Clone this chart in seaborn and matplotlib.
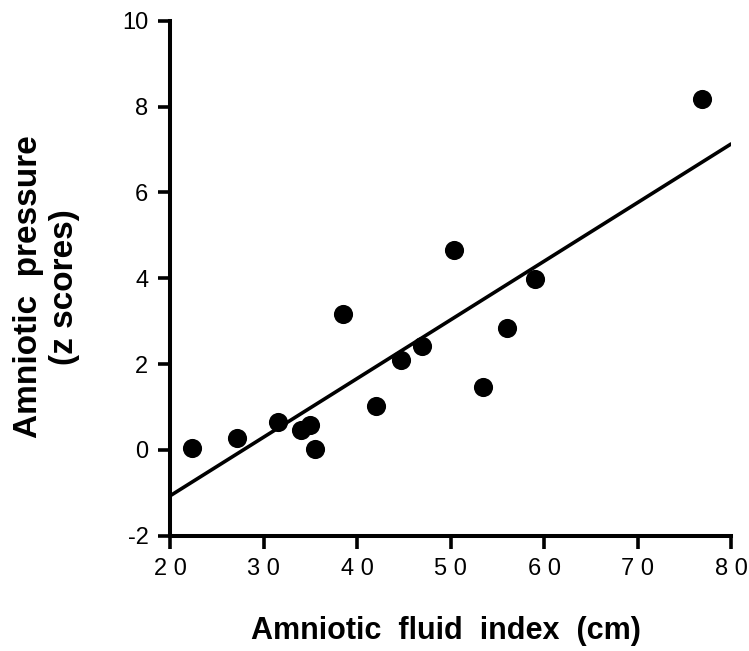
import matplotlib
matplotlib.use("Agg")
import matplotlib.pyplot as plt
import seaborn as sns
import pandas as pd

afi_cm = [22.3, 27.2, 31.5, 34.0, 35.0, 35.5, 38.5, 42.0, 44.7, 47.0, 50.4, 53.5, 56.0, 59.0, 76.9]
pressure_z = [0.04, 0.29, 0.66, 0.47, 0.58, 0.03, 3.16, 1.02, 2.09, 2.42, 4.65, 1.47, 2.84, 3.98, 8.17]
fit_x = [20, 80]
fit_y = [-1.07, 7.13]
x_ticks = [20, 30, 40, 50, 60, 70, 80]
x_tick_labels = ["2 0", "3 0", "4 0", "5 0", "6 0", "7 0", "8 0"]
y_ticks = [-2, 0, 2, 4, 6, 8, 10]

sns.set_style("ticks")
plt.rcParams['font.family'] = ['Liberation Sans', 'DejaVu Sans']
plt.rcParams['text.color'] = 'black'
plt.rcParams['axes.labelcolor'] = 'black'
plt.rcParams['xtick.color'] = 'black'
plt.rcParams['ytick.color'] = 'black'
plt.rcParams['axes.edgecolor'] = 'black'

df = pd.DataFrame({"afi": afi_cm, "z": pressure_z})
fit = pd.DataFrame({"x": fit_x, "y": fit_y})

fig = plt.figure(figsize=(7.49, 6.51), dpi=100)
ax = fig.add_axes([0.227, 0.177, 0.749, 0.791])

sns.lineplot(data=fit, x="x", y="y", color="black", linewidth=2.6, ax=ax)
sns.scatterplot(data=df, x="afi", y="z", color="black", s=190, edgecolor="black", linewidth=0, ax=ax, zorder=3)

ax.set_xlim(20, 80)
ax.set_ylim(-2, 10)
ax.set_xticks(x_ticks)
ax.set_yticks(y_ticks)
ax.set_xticklabels(x_tick_labels, fontsize=17, color="black")
ax.set_yticklabels([str(t) for t in y_ticks], fontsize=17, color="black")
for side in ["top", "right"]:
    ax.spines[side].set_visible(False)
for side in ["left", "bottom"]:
    ax.spines[side].set_linewidth(2.9)
    ax.spines[side].set_color("black")
    ax.spines[side].set_clip_on(False)
ax.tick_params(axis="y", direction="out", length=8.5, width=2.6, pad=7, colors="black")
ax.tick_params(axis="x", direction="out", length=9, width=2.6, pad=7, colors="black")

ax.set_xlabel("Amniotic  fluid  index  (cm)", fontsize=22, fontweight="bold", color="black")
ax.set_ylabel("Amniotic  pressure\n(z scores)", fontsize=24, fontweight="bold", color="black", linespacing=1.2)
ax.xaxis.set_label_coords(0.492, -0.155)
ax.yaxis.set_label_coords(-0.160, 0.483)

fig.savefig("out.png", dpi=100)
